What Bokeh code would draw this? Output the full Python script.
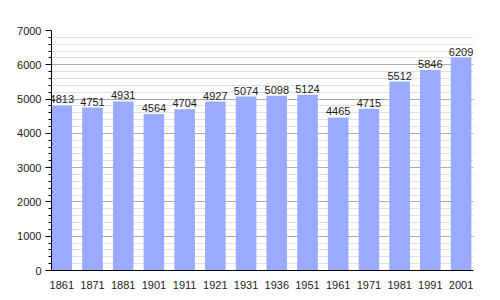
from bokeh.plotting import figure
from bokeh.models import FixedTicker, Range1d, ColumnDataSource, LabelSet
from bokeh.embed import file_html
from bokeh.resources import INLINE
from bokeh.core.properties import value

years = ["1861", "1871", "1881", "1901", "1911", "1921", "1931", "1936", "1951", "1961", "1971", "1981", "1991", "2001"]
population = [4813, 4751, 4931, 4564, 4704, 4927, 5074, 5098, 5124, 4465, 4715, 5512, 5846, 6209]
y_ticks = [0, 1000, 2000, 3000, 4000, 5000, 6000, 7000]

FONT = "Liberation Sans"
FS = "11px"
BAR_W = 0.67
idx = list(range(len(years)))
src = ColumnDataSource(dict(x=idx, y=population, lab=[str(v) for v in population]))

p = figure(width=500, height=300, output_backend="svg", toolbar_location=None,
           x_range=Range1d(-BAR_W / 2, len(years) - 1 + BAR_W / 2 + 0.07),
           y_range=Range1d(0, 7000),
           min_border_left=51, min_border_right=27, min_border_top=30, min_border_bottom=30)
p.outline_line_color = None
p.background_fill_color = "white"

p.vbar(x="x", top="y", width=BAR_W, bottom=0, source=src, fill_color="#99aaff", line_color=None)
labels = LabelSet(x="x", y="y", text="lab", source=src, text_align="center", text_baseline="bottom",
                  y_offset=2, text_font=value(FONT), text_font_size=value(FS),
                  text_color="#1a1a1a", level="overlay")
p.add_layout(labels)

# y axis
p.yaxis.ticker = FixedTicker(ticks=y_ticks, minor_ticks=list(range(0, 7001, 200)))
p.yaxis.axis_line_color = "black"
p.yaxis.major_tick_line_color = "black"
p.yaxis.minor_tick_line_color = "black"
p.yaxis.major_tick_out = 6
p.yaxis.major_tick_in = 0
p.yaxis.minor_tick_out = 3
p.yaxis.minor_tick_in = 0
p.yaxis.major_label_text_font = FONT
p.yaxis.major_label_text_font_size = FS
p.yaxis.major_label_text_color = "#1a1a1a"
p.yaxis.major_label_standoff = 4

# x axis
p.xaxis.ticker = FixedTicker(ticks=idx)
p.xaxis.major_label_overrides = {i: y for i, y in enumerate(years)}
p.xaxis.axis_line_color = "black"
p.xaxis.major_tick_line_color = None
p.xaxis.minor_tick_line_color = None
p.xaxis.major_label_text_font = FONT
p.xaxis.major_label_text_font_size = FS
p.xaxis.major_label_text_color = "#1a1a1a"
p.xaxis.major_label_standoff = 4

p.xgrid.grid_line_color = None
p.ygrid.grid_line_color = "#aaaaaa"
p.ygrid.minor_grid_line_color = "#e2e2e2"

open("out.html", "w").write(file_html(p, INLINE))
